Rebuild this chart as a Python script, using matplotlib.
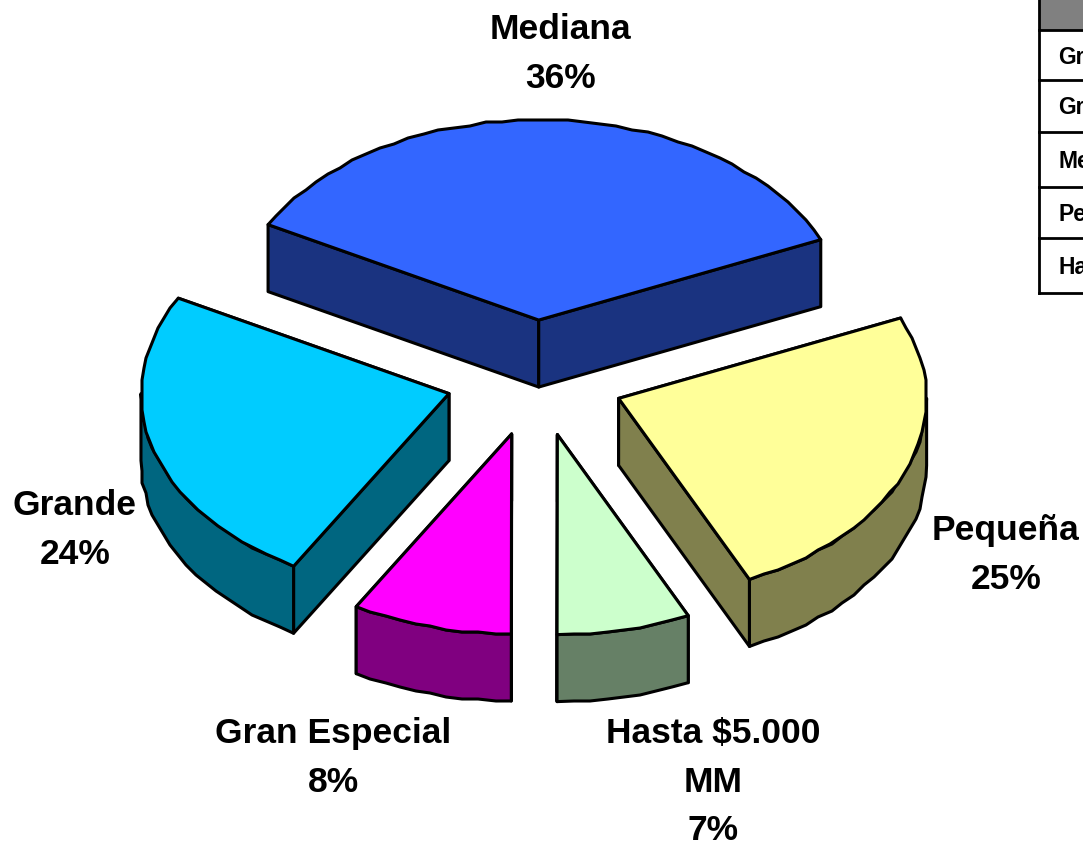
import numpy as np
import matplotlib
matplotlib.use('Agg')
import matplotlib.pyplot as plt
from matplotlib.patches import Polygon

names = ['Pequeña', 'Hasta $5.000 MM', 'Gran Especial', 'Grande', 'Mediana']
shares = [24.6, 7.0, 8.4, 24.5, 35.5]
top_colors = ['#FFFF99', '#CCFFCC', '#FF00FF', '#00CCFF', '#3366FF']
side_colors = ['#80804D', '#668066', '#800080', '#006680', '#1A3380']
x_nudge = [0, 3, 0, 0, 0]

pie_labels = ['Pequeña\n25%', 'Hasta $5.000\nMM\n7%', 'Gran Especial\n8%', 'Grande\n24%', 'Mediana\n36%']
label_pos = [(1006, 553), (713, 780), (333, 756), (75, 528), (560, 52)]

# only the start of each row label fits inside the picture
table_rows = ['Gr', 'Gr', 'Me', 'Pe', 'Ha']
table_lines = [30, 80, 132, 187, 238, 293]

start_angle = 23.7
cx, cy = 535, 378
rx, ry = 308, 200
explode = 0.29
depth = 67
snap = 2

plt.rcParams['font.family'] = ['Liberation Sans', 'DejaVu Sans']
fig = plt.figure(figsize=(10.83, 8.46), dpi=100)
ax = fig.add_axes([0, 0, 1, 1])
ax.set_xlim(0, 1083)
ax.set_ylim(846, 0)
ax.axis('off')


def rim(x0, y0, a, b):
    # small steps snapped to a grid, gives the rough edge of the old chart
    n = max(int(abs(b - a) / 3), 1)
    t = np.radians(np.linspace(a, b, n + 1))
    x = x0 + rx * np.cos(t)
    y = y0 - ry * np.sin(t)
    x[1:-1] = np.round(x[1:-1] / snap) * snap
    y[1:-1] = np.round(y[1:-1] / snap) * snap
    return np.column_stack([x, y])


def add(pts, color):
    ax.add_patch(Polygon(pts, closed=True, facecolor=color, edgecolor='black',
                         linewidth=2.2, joinstyle='round'))


angle = start_angle
for share, top, side, nudge in zip(shares, top_colors, side_colors, x_nudge):
    a = angle
    b = angle - share * 3.6
    angle = b
    mid = np.radians((a + b) / 2)
    x0 = cx + explode * rx * np.cos(mid) + nudge
    y0 = cy - explode * ry * np.sin(mid)
    drop = np.array([0, depth])
    apex = np.array([x0, y0])
    arc = rim(x0, y0, a, b)

    # cut faces, the one further back first so the nearer one covers it
    for edge in sorted((arc[0], arc[-1]), key=lambda p: p[1]):
        add(np.array([apex, edge, edge + drop, apex + drop]), side)

    # outer wall, only the part of the rim that faces the viewer
    lo = max(b, -180)
    hi = min(a, 0)
    if hi > lo:
        wall = rim(x0, y0, hi, lo)
        add(np.vstack([wall, (wall + drop)[::-1]]), side)

    add(np.vstack([apex, arc]), top)

for text, (lx, ly) in zip(pie_labels, label_pos):
    ax.text(lx, ly + 2, text, ha='center', va='center', fontsize=25.5,
            fontweight='bold', linespacing=1.6)

# table, runs off the right edge
ax.fill_between([1039, 1083], 0, table_lines[0], color='#808080', linewidth=0)
ax.plot([1039, 1039], [0, table_lines[-1]], color='black', lw=2)
for y in table_lines:
    ax.plot([1039, 1083], [y, y], color='black', lw=2)
for i, row in enumerate(table_rows):
    ax.text(1058, (table_lines[i] + table_lines[i + 1]) / 2 + 2, row, ha='left', va='center',
            fontsize=16.5, fontweight='bold')

fig.savefig('out.png', dpi=100)
